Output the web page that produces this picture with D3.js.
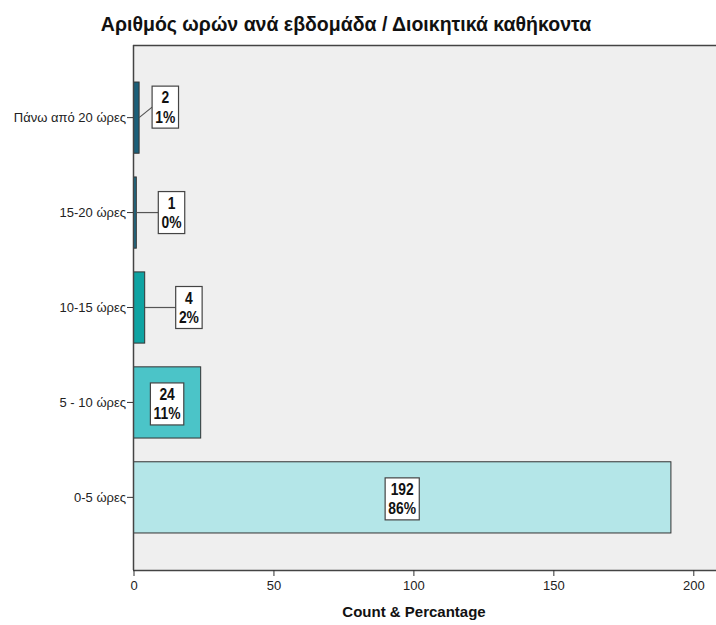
<!DOCTYPE html>
<html>
<head>
<meta charset="utf-8">
<script src="https://cdn.jsdelivr.net/npm/d3@7/dist/d3.min.js"></script>
<style>
  html, body { margin: 0; padding: 0; background: #ffffff; }
  svg { display: block; }
</style>
</head>
<body>
<svg id="chart" width="716" height="625"></svg>
<script>
// Hours per week spent on administrative duties
const categories = ["Πάνω από 20 ώρες", "15-20 ώρες", "10-15 ώρες", "5 - 10 ώρες", "0-5 ώρες"];
const counts = [2, 1, 4, 24, 192];
const percents = ["1%", "0%", "2%", "11%", "86%"];
const barColors = ["#1b5f79", "#1d6a85", "#0fa3a2", "#4bc4c8", "#b4e6e8"];
const xTicks = [0, 50, 100, 150, 200];
const title = "Αριθμός ωρών ανά εβδομάδα / Διοικητικά καθήκοντα";
const xTitle = "Count & Percantage";

const svg = d3.select("#chart");
const W = 716, H = 625;
const m = { left: 133, top: 45, right: 0, bottom: 55 };
const plotBottom = H - m.bottom; // 570
const sansFont = "'Liberation Sans', Arial, sans-serif";

const x = d3.scaleLinear().domain([0, 200]).range([m.left + 0.5, 693.3]);
const y = d3.scaleBand().domain(categories).range([m.top, plotBottom])
  .paddingInner(0.25).paddingOuter(0.39);

// plot background
svg.append("rect")
  .attr("x", m.left).attr("y", m.top)
  .attr("width", W - m.left).attr("height", plotBottom - m.top)
  .attr("fill", "#efefef");
svg.append("line")
  .attr("x1", m.left).attr("x2", W)
  .attr("y1", m.top + 0.5).attr("y2", m.top + 0.5)
  .attr("stroke", "#444").attr("stroke-width", 1.5);

// bars
const rows = categories.map((c, i) => ({ c, v: counts[i], p: percents[i], col: barColors[i] }));
svg.append("g").selectAll("rect").data(rows).join("rect")
  .attr("x", x(0))
  .attr("y", d => y(d.c))
  .attr("width", d => x(d.v) - x(0))
  .attr("height", y.bandwidth())
  .attr("fill", d => d.col)
  .attr("stroke", "#333")
  .attr("stroke-width", 1);

// axes
const xAxis = svg.append("g")
  .attr("transform", `translate(0,${plotBottom})`)
  .call(d3.axisBottom(x).tickValues(xTicks).tickSize(6).tickSizeOuter(0));
xAxis.select(".domain").attr("d", `M${m.left},0.5H${W}`).attr("stroke", "#444").attr("stroke-width", 1.5);
xAxis.selectAll(".tick line").attr("stroke", "#333");
xAxis.selectAll(".tick text")
  .attr("font-family", sansFont)
  .attr("font-size", 13).attr("fill", "#222").attr("dy", "0.85em");

const yAxis = svg.append("g")
  .attr("transform", `translate(${m.left},0)`)
  .call(d3.axisLeft(y).tickSize(6).tickSizeOuter(0).tickPadding(1));
yAxis.select(".domain").attr("d", `M0.5,${m.top}V${plotBottom}`).attr("stroke", "#444").attr("stroke-width", 1.5);
yAxis.selectAll(".tick line").attr("stroke", "#333");
yAxis.selectAll(".tick text")
  .attr("font-family", sansFont)
  .attr("font-size", 13).attr("fill", "#222");

// titles
svg.append("text")
  .attr("x", 346).attr("y", 31)
  .attr("text-anchor", "middle")
  .attr("font-family", sansFont)
  .attr("font-weight", "bold").attr("font-size", 19.5).attr("fill", "#111")
  .text(title);
svg.append("text")
  .attr("x", 414).attr("y", 617)
  .attr("text-anchor", "middle")
  .attr("font-family", sansFont)
  .attr("font-weight", "bold").attr("font-size", 15).attr("fill", "#111")
  .text(xTitle);

// value callouts: boxed count and percentage; small bars get a leader line
const callout = [
  { dx: 13, dy: -10.5 },
  { dx: 22, dy: 0 },
  { dx: 31, dy: 0 },
  null,
  null
];
const squeeze = 0.84; // condensed look for the callout text
const leaderLayer = svg.append("g");
const labelLayer = svg.append("g");
rows.forEach((d, i) => {
  const cy = y(d.c) + y.bandwidth() / 2;
  const g = labelLayer.append("g");
  const box = g.append("rect");
  const t = g.append("text")
    .attr("text-anchor", "middle")
    .attr("transform", `scale(${squeeze},1)`)
    .attr("font-family", sansFont)
    .attr("font-weight", "bold").attr("font-size", 16.5).attr("fill", "#111");
  t.append("tspan").attr("x", 0).attr("y", -4).text(d.v);
  t.append("tspan").attr("x", 0).attr("y", 15.5).text(d.p);
  const bb = t.node().getBBox();
  const bw = Math.max(23, bb.width * squeeze + 6), bh = 42;
  const c = callout[i];
  const cx = c ? x(d.v) + c.dx + bw / 2 : (x(0) + x(d.v)) / 2;
  const by = cy + (c ? c.dy : 1.5);
  if (c) {
    leaderLayer.append("line")
      .attr("x1", x(d.v)).attr("y1", cy)
      .attr("x2", cx - bw / 2).attr("y2", by)
      .attr("stroke", "#555").attr("stroke-width", 1.2);
  }
  g.attr("transform", `translate(${cx},${by})`);
  box.attr("x", -bw / 2).attr("y", -bh / 2)
    .attr("width", bw).attr("height", bh)
    .attr("fill", "#fff").attr("stroke", "#444").attr("stroke-width", 1.2);
});
</script>
</body>
</html>
